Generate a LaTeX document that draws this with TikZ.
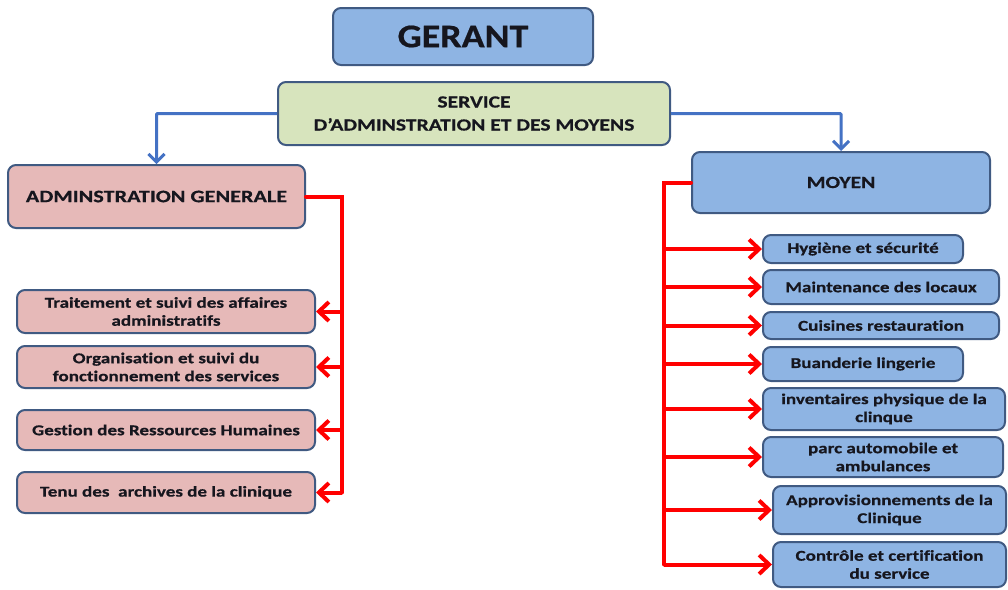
\documentclass[tikz,border=0pt]{standalone}
\usepackage{fontspec}
\setmainfont{Carlito}[FakeStretch=1.27, Ligatures=NoCommon, BoldFeatures={FakeBold=0.6}]
\newfontfamily\titlefont{Carlito}[FakeStretch=1.15, BoldFeatures={FakeBold=0.6}]
\usetikzlibrary{arrows.meta}
\definecolor{boxblue}{RGB}{142,180,227}
\definecolor{boxgreen}{RGB}{215,228,189}
\definecolor{boxpink}{RGB}{230,185,184}
\definecolor{edgecol}{RGB}{64,90,130}
\definecolor{linkblue}{RGB}{68,114,196}
\definecolor{txt}{RGB}{22,22,30}
\tikzset{
  box/.style={draw=edgecol, line width=2pt, rounded corners=8pt, inner sep=0pt,
    align=center, text=txt, font=\bfseries},
  bluebox/.style={box, fill=boxblue},
  greenbox/.style={box, fill=boxgreen},
  pinkbox/.style={box, fill=boxpink},
  small/.style={font=\fontsize{15}{18}\selectfont\bfseries},
  bus/.style={draw=red, line width=4pt},
  redarrow/.style={draw=red, line width=4pt, -{Straight Barb[length=10pt,width=19pt,line width=4pt]}},
  bluearrow/.style={draw=linkblue, line width=3pt, rounded corners=1pt,
    -{Straight Barb[length=8pt,width=16pt,line width=3pt]}},
}
\begin{document}
\begin{tikzpicture}[x=1pt,y=-1pt]
\useasboundingbox (0,0) rectangle (1008,589);

% top of the hierarchy
\node[bluebox, minimum width=260, minimum height=57, font=\titlefont\fontsize{33}{35}\selectfont\bfseries]
  (gerant) at (463,36.5) {GERANT};
\node[greenbox, minimum width=392, minimum height=63, font=\fontsize{17}{23}\selectfont\bfseries]
  (service) at (474,113.5) {SERVICE\\D’ADMINSTRATION ET DES MOYENS};

% the two branches
\node[pinkbox, minimum width=297, minimum height=63, font=\fontsize{17.5}{21}\selectfont\bfseries]
  (admin) at (156.5,196.5) {ADMINSTRATION GENERALE};
\node[bluebox, minimum width=298, minimum height=61, font=\fontsize{17}{21}\selectfont\bfseries]
  (moyen) at (841,182.5) {MOYEN};

% administration tasks
\node[pinkbox, small, minimum width=298, minimum height=43] (a1) at (166,311.5)
  {Traitement et suivi des affaires\\administratifs};
\node[pinkbox, small, minimum width=298, minimum height=42] (a2) at (166,367)
  {Organisation et suivi du\\fonctionnement des services};
\node[pinkbox, small, minimum width=298, minimum height=40] (a3) at (166,430)
  {Gestion des Ressources Humaines};
\node[pinkbox, small, minimum width=298, minimum height=41] (a4) at (166,492.5)
  {Tenu des~ archives de la clinique};

% logistics tasks
\node[bluebox, small, minimum width=200, minimum height=28] (m1) at (863,249)
  {Hygiène et sécurité};
\node[bluebox, small, minimum width=236, minimum height=34] (m2) at (881,287)
  {Maintenance des locaux};
\node[bluebox, small, minimum width=236, minimum height=27] (m3) at (881,325.5)
  {Cuisines restauration};
\node[bluebox, small, minimum width=200, minimum height=34] (m4) at (863,364)
  {Buanderie lingerie};
\node[bluebox, small, minimum width=242, minimum height=42] (m5) at (884,409)
  {inventaires physique de la\\clinque};
\node[bluebox, small, minimum width=240, minimum height=40] (m6) at (883,457)
  {parc automobile et\\ambulances};
\node[bluebox, small, minimum width=233, minimum height=48] (m7) at (889.5,510)
  {Approvisionnements de la\\Clinique};
\node[bluebox, small, minimum width=233, minimum height=45] (m8) at (889.5,564.5)
  {Contrôle et certification\\du service};

% service to its two branches
\draw[bluearrow] (service.west) -| (admin.north);
\draw[bluearrow] (service.east) -| (moyen.north);

% left bus
\coordinate (lb) at (342,196.5);
\draw[bus, line cap=round] (admin.east) -- (lb) -- (lb |- a4.east);
\foreach \n in {a1,a2,a3,a4}
  \draw[redarrow] (lb |- \n.east) -- (\n.east);

% right bus
\coordinate (rb) at (664,182.5);
\draw[bus, line cap=round] (moyen.west) -- (rb) -- (rb |- m8.west);
\foreach \n in {m1,m2,m3,m4,m5,m6,m7,m8}
  \draw[redarrow] (rb |- \n.west) -- (\n.west);
\end{tikzpicture}
\end{document}
